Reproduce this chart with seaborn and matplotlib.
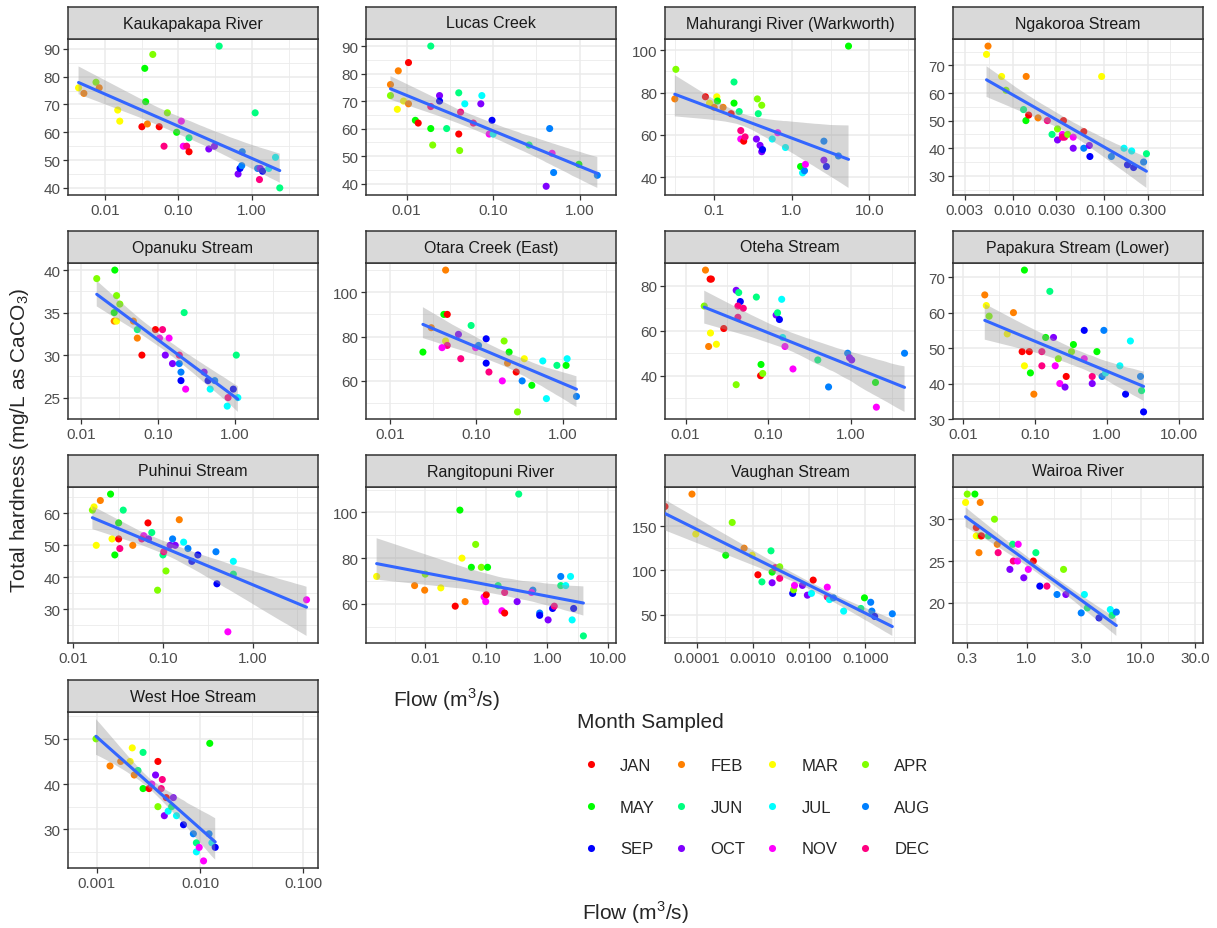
import numpy as np
import pandas as pd
import matplotlib
matplotlib.use("Agg")
import matplotlib.pyplot as plt
import seaborn as sns
from matplotlib.ticker import FixedLocator, NullFormatter

month_names = ["JAN", "FEB", "MAR", "APR", "MAY", "JUN",
               "JUL", "AUG", "SEP", "OCT", "NOV", "DEC"]
# R rainbow(12)
month_colors = ["#FF0000", "#FF8000", "#FFFF00", "#80FF00", "#00FF00", "#00FF80",
                "#00FFFF", "#0080FF", "#0000FF", "#8000FF", "#FF00FF", "#FF0080"]

# ---- data (flow m3/s, hardness mg/L, month 1-12) ----
kaukapakapa_flow = [0.0044, 0.0052, 0.0076, 0.0084, 0.015, 0.016, 0.035, 0.045, 0.036, 0.032, 0.038, 0.055,
                    0.064, 0.071, 0.095, 0.11, 0.117, 0.13, 0.14, 0.14, 0.26, 0.31, 0.36, 0.65, 0.69, 0.73,
                    0.74, 1.11, 1.2, 1.3, 1.27, 1.4, 1.7, 2.1, 2.4]
kaukapakapa_hard = [76, 74, 78, 76, 68, 64, 83, 88, 71, 62, 63, 62, 55, 67, 60, 64, 55, 55, 58, 53, 54, 55,
                    91, 45, 47, 48, 53, 67, 47, 47, 43, 46, 47, 51, 40]
kaukapakapa_month = [3, 2, 4, 2, 3, 3, 5, 4, 5, 1, 2, 1, 12, 4, 5, 11, 11, 12, 6, 1, 10, 10, 6, 10, 9, 8,
                     8, 6, 8, 10, 12, 9, 7, 7, 6]

lucas_flow = [0.0065, 0.0065, 0.008, 0.0078, 0.0092, 0.0105, 0.0105, 0.0126, 0.0136, 0.019, 0.019, 0.020,
              0.019, 0.024, 0.024, 0.029, 0.040, 0.040, 0.041, 0.042, 0.047, 0.059, 0.074, 0.072, 0.09,
              0.097, 0.10, 0.26, 0.45, 0.41, 0.48, 0.50, 0.98, 1.6]
lucas_hard = [76, 72, 81, 67, 70, 84, 69, 63, 62, 90, 60, 54, 68, 72, 70, 60, 73, 58, 52, 66, 69, 62, 72,
              69, 58, 63, 58, 54, 60, 39, 51, 44, 47, 43]
lucas_month = [2, 4, 2, 3, 3, 1, 2, 5, 1, 6, 5, 4, 12, 10, 9, 6, 6, 1, 4, 12, 7, 12, 7, 10, 11, 9, 7, 6,
               8, 10, 11, 8, 5, 8]

mahurangi_flow = [0.032, 0.031, 0.077, 0.087, 0.108, 0.11, 0.10, 0.13, 0.18, 0.18, 0.165, 0.21, 0.22,
                  0.22, 0.24, 0.25, 0.36, 0.41, 0.37, 0.35, 0.39, 0.41, 0.42, 0.56, 0.66, 0.83, 1.3, 1.38,
                  1.46, 1.5, 2.6, 2.6, 2.8, 4.0, 5.4]
mahurangi_hard = [91, 77, 78, 75, 78, 76, 73, 73, 85, 75, 70, 71, 62, 58, 57, 59, 77, 74, 70, 58, 55, 52,
                  53, 58, 61, 54, 45, 42, 43, 46, 57, 48, 45, 50, 102]
mahurangi_month = [4, 2, 1, 3, 3, 5, 2, 2, 6, 5, 1, 6, 12, 11, 1, 12, 4, 4, 6, 10, 10, 10, 9, 7, 11, 7,
                   5, 7, 8, 11, 8, 10, 9, 8, 5]

ngakoroa_flow = [0.0054, 0.0052, 0.0076, 0.0141, 0.0085, 0.0132, 0.014, 0.015, 0.019, 0.024, 0.027, 0.031,
                 0.031, 0.035, 0.036, 0.037, 0.035, 0.040, 0.046, 0.046, 0.060, 0.060, 0.069, 0.070, 0.094,
                 0.12, 0.165, 0.20, 0.18, 0.21, 0.27, 0.29]
ngakoroa_hard = [77, 74, 66, 66, 61, 54, 50, 52, 51, 50, 45, 47, 43, 45, 50, 44, 44, 45, 44, 40, 46, 40,
                 41, 37, 66, 37, 40, 39, 34, 33, 35, 38]
ngakoroa_month = [2, 3, 3, 2, 4, 6, 5, 1, 2, 12, 6, 4, 10, 11, 1, 12, 12, 4, 11, 10, 1, 8, 10, 9, 3, 8,
                  7, 7, 9, 9, 8, 6]

opanuku_flow = [0.016, 0.0275, 0.029, 0.032, 0.027, 0.027, 0.029, 0.048, 0.054, 0.054, 0.062, 0.093,
                0.115, 0.105, 0.14, 0.125, 0.155, 0.19, 0.19, 0.20, 0.20, 0.22, 0.23, 0.40, 0.45, 0.55,
                0.48, 0.80, 0.82, 0.96, 1.05, 1.1]
opanuku_hard = [39, 40, 37, 36, 35, 34, 34, 34, 33, 32, 30, 33, 33, 32, 32, 30, 29, 30, 29, 28, 27, 35,
                26, 28, 27, 27, 26, 24, 25, 26, 30, 25]
opanuku_month = [4, 5, 4, 4, 5, 2, 3, 2, 6, 2, 1, 1, 12, 11, 11, 10, 10, 12, 8, 8, 9, 6, 11, 10, 9, 8,
                 7, 7, 12, 9, 6, 7]

otara_flow = [0.024, 0.030, 0.044, 0.042, 0.046, 0.044, 0.046, 0.040, 0.062, 0.066, 0.087, 0.098, 0.106,
              0.13, 0.13, 0.14, 0.21, 0.20, 0.23, 0.24, 0.29, 0.30, 0.36, 0.34, 0.44, 0.59, 0.65, 0.86,
              1.1, 1.13, 1.45]
otara_hard = [73, 84, 110, 90, 90, 78, 76, 75, 81, 70, 85, 75, 76, 79, 68, 64, 78, 60, 68, 73, 64, 46,
              70, 60, 58, 69, 52, 67, 67, 70, 53]
otara_month = [5, 2, 2, 5, 1, 3, 12, 11, 10, 12, 6, 11, 8, 9, 9, 12, 4, 11, 2, 5, 1, 4, 3, 8, 5, 7, 7,
               6, 5, 7, 8]

oteha_flow = [0.0174, 0.0205, 0.0198, 0.0168, 0.019, 0.020, 0.0236, 0.029, 0.041, 0.044, 0.046, 0.043,
              0.050, 0.043, 0.041, 0.072, 0.081, 0.082, 0.086, 0.125, 0.13, 0.137, 0.146, 0.15, 0.16,
              0.20, 0.40, 0.54, 0.92, 0.97, 1.03, 2.0, 2.05, 4.5]
oteha_hard = [87, 83, 83, 71, 53, 59, 54, 61, 78, 77, 73, 71, 70, 66, 36, 75, 40, 45, 41, 67, 68, 65, 74,
              57, 53, 43, 47, 35, 50, 48, 47, 37, 26, 50]
oteha_month = [2, 1, 1, 4, 2, 3, 3, 1, 10, 6, 9, 12, 12, 12, 4, 6, 1, 5, 4, 10, 6, 9, 7, 7, 11, 11, 6,
               8, 8, 10, 10, 5, 11, 8]

papakura_flow = [0.020, 0.021, 0.023, 0.041, 0.050, 0.071, 0.066, 0.083, 0.071, 0.086, 0.096, 0.124,
                 0.124, 0.16, 0.14, 0.18, 0.19, 0.21, 0.22, 0.26, 0.27, 0.32, 0.34, 0.48, 0.48, 0.62, 0.62,
                 0.72, 0.90, 0.85, 0.95, 1.5, 1.8, 2.1, 2.9, 3.0, 3.2]
papakura_hard = [65, 62, 59, 54, 60, 72, 49, 49, 45, 43, 37, 49, 45, 66, 53, 53, 45, 47, 40, 39, 42, 49,
                 51, 55, 47, 40, 42, 49, 55, 42, 43, 45, 37, 52, 42, 38, 32]
papakura_month = [2, 3, 4, 3, 2, 5, 1, 1, 3, 5, 2, 12, 12, 6, 5, 10, 11, 4, 11, 10, 1, 4, 5, 9, 11, 10,
                  12, 5, 8, 8, 7, 7, 9, 7, 8, 6, 9]

puhinui_flow = [0.0163, 0.017, 0.018, 0.020, 0.026, 0.027, 0.029, 0.032, 0.032, 0.033, 0.036, 0.046,
                0.061, 0.058, 0.068, 0.069, 0.075, 0.087, 0.10, 0.102, 0.108, 0.12, 0.128, 0.137, 0.152,
                0.17, 0.19, 0.21, 0.245, 0.39, 0.40, 0.53, 0.61, 0.61, 4.0]
puhinui_hard = [61, 62, 50, 64, 66, 52, 47, 57, 52, 49, 61, 50, 53, 52, 57, 52, 54, 36, 47, 48, 42, 50,
                52, 50, 58, 51, 49, 45, 47, 48, 38, 23, 45, 41, 33]
puhinui_month = [4, 3, 3, 2, 5, 3, 5, 5, 1, 12, 6, 2, 11, 12, 1, 10, 6, 4, 6, 12, 4, 10, 8, 10, 2, 7, 8,
                 9, 9, 8, 9, 11, 7, 6, 11]

rangitopuni_flow = [0.0016, 0.0067, 0.0098, 0.010, 0.018, 0.031, 0.037, 0.040, 0.045, 0.057, 0.067, 0.083,
                    0.105, 0.092, 0.098, 0.10, 0.156, 0.18, 0.20, 0.20, 0.32, 0.34, 0.58, 0.55, 0.75, 0.75,
                    1.03, 1.22, 1.3, 1.66, 1.66, 2.0, 2.4, 2.55, 2.7, 3.9]
rangitopuni_hard = [72, 68, 66, 73, 67, 59, 101, 80, 61, 76, 86, 76, 76, 63, 61, 64, 68, 57, 56, 65, 61,
                    108, 66, 65, 56, 55, 53, 58, 59, 72, 68, 68, 72, 53, 58, 46]
rangitopuni_month = [3, 2, 2, 4, 3, 1, 5, 3, 2, 5, 4, 4, 5, 11, 11, 1, 6, 11, 1, 12, 10, 6, 8, 11, 8, 9,
                     10, 9, 12, 8, 6, 7, 7, 7, 9, 6]

vaughan_flow = [2.75e-5, 8.3e-5, 9.7e-5, 0.00043, 0.00033, 0.0007, 0.00097, 0.00123, 0.00145, 0.0021,
                0.0022, 0.0022, 0.0025, 0.003, 0.003, 0.0051, 0.0053, 0.0055, 0.0076, 0.0093, 0.011, 0.0118,
                0.021, 0.021, 0.023, 0.027, 0.041, 0.083, 0.096, 0.124, 0.13, 0.146, 0.30]
vaughan_hard = [172, 186, 141, 154, 117, 125, 117, 95, 87, 122, 98, 86, 103, 104, 91, 74, 78, 83, 83, 72,
                74, 89, 81, 70, 67, 69, 54, 57, 69, 64, 54, 48, 51]
vaughan_month = [1, 2, 3, 4, 5, 2, 3, 1, 6, 6, 5, 10, 12, 4, 12, 9, 4, 11, 10, 10, 7, 1, 11, 12, 7, 8, 7,
                 6, 5, 8, 8, 9, 8]

wairoa_flow = [0.29, 0.30, 0.35, 0.39, 0.36, 0.36, 0.39, 0.40, 0.38, 0.46, 0.52, 0.55, 0.56, 0.71, 0.75,
               0.76, 0.83, 0.84, 0.94, 1.03, 1.14, 1.2, 1.3, 1.5, 1.84, 2.1, 2.2, 3.0, 3.2, 3.4, 4.3, 5.4,
               5.6, 6.1]
wairoa_hard = [32, 33, 33, 32, 29, 28, 28, 28, 26, 28, 30, 27, 26, 24, 27, 25, 25, 27, 23, 24, 25, 26, 22,
               22, 21, 24, 21, 18.8, 21, 19.4, 18.2, 19.2, 18.5, 18.9]
wairoa_month = [3, 4, 5, 2, 1, 3, 4, 1, 2, 6, 4, 2, 12, 10, 6, 12, 11, 11, 10, 11, 1, 6, 9, 12, 8, 4, 10,
                8, 7, 6, 9, 7, 6, 8]

westhoe_flow = [0.00098, 0.00134, 0.0017, 0.0022, 0.0021, 0.0023, 0.0025, 0.0028, 0.0028, 0.0032, 0.0034,
                0.0037, 0.0039, 0.0039, 0.0042, 0.0043, 0.0045, 0.0047, 0.0049, 0.0053, 0.0055, 0.0059,
                0.0069, 0.0086, 0.0092, 0.0092, 0.0098, 0.0108, 0.0124, 0.0122, 0.013, 0.014]
westhoe_hard = [50, 44, 45, 48, 45, 42, 43, 47, 39, 39, 40, 42, 45, 35, 39, 41, 33, 37, 34, 35, 37, 33,
                31, 29, 27, 25, 26, 23, 49, 29, 27, 26]
westhoe_month = [4, 2, 2, 3, 3, 2, 6, 6, 5, 1, 11, 10, 1, 4, 12, 12, 10, 1, 7, 6, 10, 7, 9, 8, 6, 7, 11,
                 11, 5, 8, 7, 9]

sites = ["Kaukapakapa River", "Lucas Creek", "Mahurangi River (Warkworth)", "Ngakoroa Stream",
         "Opanuku Stream", "Otara Creek (East)", "Oteha Stream", "Papakura Stream (Lower)",
         "Puhinui Stream", "Rangitopuni River", "Vaughan Stream", "Wairoa River", "West Hoe Stream"]
site_arrays = [
    (kaukapakapa_flow, kaukapakapa_hard, kaukapakapa_month),
    (lucas_flow, lucas_hard, lucas_month),
    (mahurangi_flow, mahurangi_hard, mahurangi_month),
    (ngakoroa_flow, ngakoroa_hard, ngakoroa_month),
    (opanuku_flow, opanuku_hard, opanuku_month),
    (otara_flow, otara_hard, otara_month),
    (oteha_flow, oteha_hard, oteha_month),
    (papakura_flow, papakura_hard, papakura_month),
    (puhinui_flow, puhinui_hard, puhinui_month),
    (rangitopuni_flow, rangitopuni_hard, rangitopuni_month),
    (vaughan_flow, vaughan_hard, vaughan_month),
    (wairoa_flow, wairoa_hard, wairoa_month),
    (westhoe_flow, westhoe_hard, westhoe_month),
]

# x axis breaks / labels per panel
x_breaks = [[0.01, 0.1, 1], [0.01, 0.1, 1], [0.1, 1, 10], [0.003, 0.01, 0.03, 0.1, 0.3],
            [0.01, 0.1, 1], [0.01, 0.1, 1], [0.01, 0.1, 1], [0.01, 0.1, 1, 10],
            [0.01, 0.1, 1], [0.01, 0.1, 1, 10], [1e-4, 1e-3, 1e-2, 1e-1], [0.3, 1, 3, 10, 30],
            [0.001, 0.01, 0.1]]
x_labels = [["0.01", "0.10", "1.00"], ["0.01", "0.10", "1.00"], ["0.1", "1.0", "10.0"],
            ["0.003", "0.010", "0.030", "0.100", "0.300"],
            ["0.01", "0.10", "1.00"], ["0.01", "0.10", "1.00"], ["0.01", "0.10", "1.00"],
            ["0.01", "0.10", "1.00", "10.00"],
            ["0.01", "0.10", "1.00"], ["0.01", "0.10", "1.00", "10.00"],
            ["0.0001", "0.0010", "0.0100", "0.1000"], ["0.3", "1.0", "3.0", "10.0", "30.0"],
            ["0.001", "0.010", "0.100"]]
# x range of each panel (log10 flow)
x_log_limits = [(-2.50, 0.90), (-2.47, 0.42), (-1.635, 1.59), (-2.65, 0.08),
                (-2.17, 1.085), (-2.28, 0.62), (-2.25, 0.78), (-2.14, 1.33),
                (-2.06, 0.73), (-2.97, 1.125), (-4.56, -0.12), (-0.648, 1.546),
                (-3.28, -0.858)]
y_breaks = [[40, 50, 60, 70, 80, 90], [40, 50, 60, 70, 80, 90], [40, 60, 80, 100], [30, 40, 50, 60, 70],
            [25, 30, 35, 40], [60, 80, 100], [40, 60, 80], [30, 40, 50, 60, 70],
            [30, 40, 50, 60], [60, 80, 100], [50, 100, 150], [20, 25, 30], [30, 40, 50]]

frames = []
for name, (fl, hd, mo) in zip(sites, site_arrays):
    frames.append(pd.DataFrame({"site": name, "flow": fl, "hardness": hd,
                                "month": [month_names[m - 1] for m in mo]}))
df = pd.concat(frames, ignore_index=True)

sns.set_theme(style="white")
plt.rcParams["font.family"] = ["Liberation Sans", "DejaVu Sans"]
plt.rcParams["mathtext.fontset"] = "custom"
plt.rcParams["mathtext.rm"] = "Liberation Sans"

W, H = 1217, 929
fig = plt.figure(figsize=(W / 100, H / 100), dpi=100)
fig.patch.set_facecolor("white")

col_left = [68, 366, 665, 953]
row_top = [8, 232, 456, 681]
panel_w, strip_h, panel_h = 250, 32, 156
border = "#333333"

legend_handles = None
for i, name in enumerate(sites):
    r, c = divmod(i, 4)
    left = col_left[c]
    top = row_top[r]
    ax = fig.add_axes([left / W, 1 - (top + strip_h + panel_h) / H, panel_w / W, panel_h / H])
    st = fig.add_axes([left / W, 1 - (top + strip_h) / H, panel_w / W, strip_h / H])

    sub = df[df["site"] == name]
    ax.set_xscale("log")
    sns.scatterplot(data=sub, x="flow", y="hardness", hue="month", hue_order=month_names,
                    palette=month_colors, s=26, linewidth=0, ax=ax, legend=(i == 0), zorder=2)
    if i == 0:
        legend_handles = ax.get_legend_handles_labels()
        ax.get_legend().remove()
    sns.regplot(data=sub, x="flow", y="hardness", logx=True, scatter=False, ax=ax,
                color="0.6", seed=3, line_kws={"color": "#3366FF", "lw": 2.2, "zorder": 4})
    band = ax.collections[-1]
    band.set_facecolor((0.6, 0.6, 0.6, 0.4))
    band.set_edgecolor("none")
    band.set_alpha(None)
    band.set_zorder(3)

    # limits: data + ribbon, with 5% expansion
    band_y = np.concatenate([p.vertices[:, 1] for p in band.get_paths()])
    lo = min(sub["hardness"].min(), band_y.min())
    hi = max(sub["hardness"].max(), band_y.max())
    pad = 0.05 * (hi - lo)
    ax.set_ylim(lo - pad, hi + pad)
    xl = x_log_limits[i]
    ax.set_xlim(10 ** xl[0], 10 ** xl[1])

    # ticks and grid
    xb = np.log10(x_breaks[i])
    xminor = np.concatenate([[xb[0] - (xb[1] - xb[0]) / 2], (xb[:-1] + xb[1:]) / 2,
                             [xb[-1] + (xb[-1] - xb[-2]) / 2]])
    ax.xaxis.set_major_locator(FixedLocator(x_breaks[i]))
    ax.set_xticklabels(x_labels[i])
    ax.xaxis.set_minor_locator(FixedLocator(10 ** xminor))
    ax.xaxis.set_minor_formatter(NullFormatter())
    yb = y_breaks[i]
    step = yb[1] - yb[0]
    ax.yaxis.set_major_locator(FixedLocator(yb))
    ax.yaxis.set_minor_locator(FixedLocator(np.arange(yb[0] - step / 2, yb[-1] + step, step)))
    ax.grid(which="major", color="#EBEBEB", lw=1.1)
    ax.grid(which="minor", color="#EBEBEB", lw=0.6)
    ax.set_axisbelow(True)
    ax.tick_params(which="major", direction="out", length=3.5, width=0.9, color=border,
                   labelsize=11, labelcolor="#4D4D4D", pad=2, bottom=True, left=True)
    ax.tick_params(which="minor", length=0)
    ax.set_xlabel("")
    ax.set_ylabel("")
    for sp in ax.spines.values():
        sp.set_color(border)
        sp.set_linewidth(1.1)

    st.set_facecolor("#D9D9D9")
    st.set_xticks([])
    st.set_yticks([])
    for sp in st.spines.values():
        sp.set_color(border)
        sp.set_linewidth(1.1)
    st.text(0.5, 0.5, name, ha="center", va="center", fontsize=11.5, color="#1A1A1A",
            transform=st.transAxes)

# axis titles
fig.text(20 / W, 1 - 440 / H, r"Total hardness (mg/L as CaCO$_{\mathregular{3}}$)", rotation=90,
         ha="center", va="center", fontsize=15)
fig.text(447 / W, 1 - 700 / H, r"Flow (m$^{\mathregular{3}}$/s)", ha="center", va="center", fontsize=15)
fig.text(636 / W, 1 - 913 / H, r"Flow (m$^{\mathregular{3}}$/s)", ha="center", va="center", fontsize=15)

# legend, filled row by row
handles, labels = legend_handles
lookup = dict(zip(labels, handles))
order = [month_names[rr * 4 + cc] for cc in range(4) for rr in range(3)]
fig.legend([lookup[m] for m in order], order, ncol=4, title="Month Sampled",
           loc="upper left", bbox_to_anchor=(569 / W, 1 - 705 / H), frameon=False,
           fontsize=12, title_fontsize=15, handlelength=1.6, handletextpad=0.95,
           columnspacing=0.8, labelspacing=1.6, borderpad=0, alignment="left")

fig.savefig("out.png", dpi=100, facecolor="white")
